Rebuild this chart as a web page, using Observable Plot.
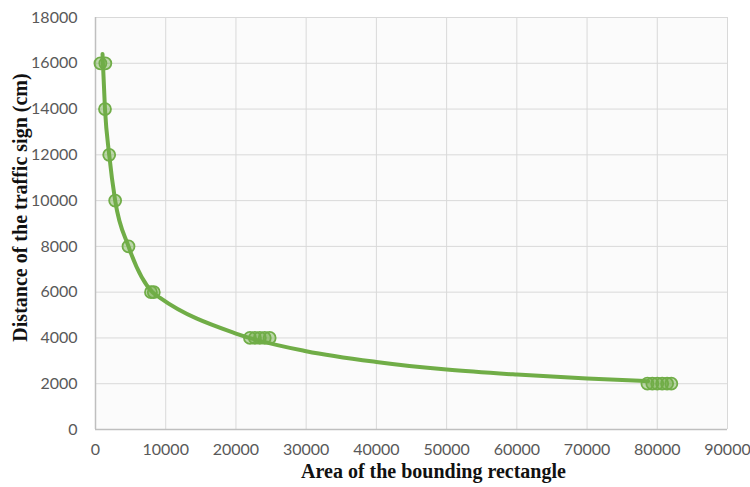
<!DOCTYPE html>
<html>
<head>
<meta charset="utf-8">
<script src="https://cdn.jsdelivr.net/npm/d3@7"></script>
<script src="https://cdn.jsdelivr.net/npm/@observablehq/plot@0.6"></script>
<style>
  html, body { margin: 0; padding: 0; background: #ffffff; }
  #chart svg { display: block; }
</style>
</head>
<body>
<div id="chart"></div>
<script>
// Measured points: area of bounding rectangle vs. distance (cm)
const pointArea = [700, 1400, 1350, 1950, 2800, 4700, 7900, 8300,
  22000, 22700, 23400, 24100, 24800,
  78600, 79300, 80000, 80700, 81400, 82000];
const pointDistance = [16000, 16000, 14000, 12000, 10000, 8000, 6000, 6000,
  4000, 4000, 4000, 4000, 4000,
  2000, 2000, 2000, 2000, 2000, 2000];

// Trend line
const trendArea = [1000, 1350, 1950, 2800, 4700, 8100, 9200, 20000, 30000, 40000, 50000, 60000, 70000, 78700];
const trendDistance = [16400, 14000, 12000, 10000, 8000, 6000, 5750, 4190, 3420, 2950, 2620, 2400, 2230, 2110];

const xTicks = [0, 10000, 20000, 30000, 40000, 50000, 60000, 70000, 80000, 90000];
const yTicks = [0, 2000, 4000, 6000, 8000, 10000, 12000, 14000, 16000, 18000];

const xTitle = "Area of the bounding rectangle";
const yTitle = "Distance of the traffic sign (cm)";

const points = pointArea.map((a, i) => ({area: a, distance: pointDistance[i]}));
const trend = trendArea.map((a, i) => ({area: a, distance: trendDistance[i]}));

const green = "#70ad47";

const chart = Plot.plot({
  width: 750,
  height: 487,
  marginLeft: 95,
  marginRight: 23,
  marginTop: 17,
  marginBottom: 58,
  style: {fontFamily: "Lato, sans-serif", fontSize: "16px", color: "#595959", background: "#ffffff"},
  x: {domain: [0, 90000], ticks: xTicks, tickFormat: d => String(d)},
  y: {domain: [0, 18000], ticks: yTicks, tickFormat: d => String(d)},
  marks: [
    Plot.frame({fill: "#fbfbfb", stroke: null}),
    Plot.gridX(xTicks.slice(1), {stroke: "#d9d9d9", strokeOpacity: 1, strokeWidth: 1}),
    Plot.gridY(yTicks.slice(1), {stroke: "#d9d9d9", strokeOpacity: 1, strokeWidth: 1}),
    Plot.ruleX([0], {stroke: "#bfbfbf", strokeWidth: 1.5}),
    Plot.ruleY([0], {stroke: "#bfbfbf", strokeWidth: 1.5}),
    Plot.axisX({ticks: xTicks, tickSize: 0, tickPadding: 14, label: null, tickFormat: d => String(d), fill: "#595959"}),
    Plot.axisY({ticks: yTicks, tickSize: 0, tickPadding: 18, label: null, tickFormat: d => String(d), fill: "#595959"}),
    Plot.line(trend, {x: "area", y: "distance", stroke: green, strokeWidth: 4, curve: "monotone-x"}),
    Plot.dot(points, {x: "area", y: "distance", r: 6, fill: green, fillOpacity: 0.45, stroke: green, strokeWidth: 1.8}),
    Plot.text([xTitle], {frameAnchor: "bottom", dx: 22, dy: 48, text: d => d, textAnchor: "middle",
      fontFamily: "Liberation Serif, serif", fontWeight: "bold", fontSize: 20, fill: "#111111"}),
    Plot.text([yTitle], {frameAnchor: "left", dx: -75, dy: -16, rotate: -90, text: d => d, textAnchor: "middle",
      fontFamily: "Liberation Serif, serif", fontWeight: "bold", fontSize: 20, fill: "#111111"})
  ]
});

document.getElementById("chart").appendChild(chart);
</script>
</body>
</html>
